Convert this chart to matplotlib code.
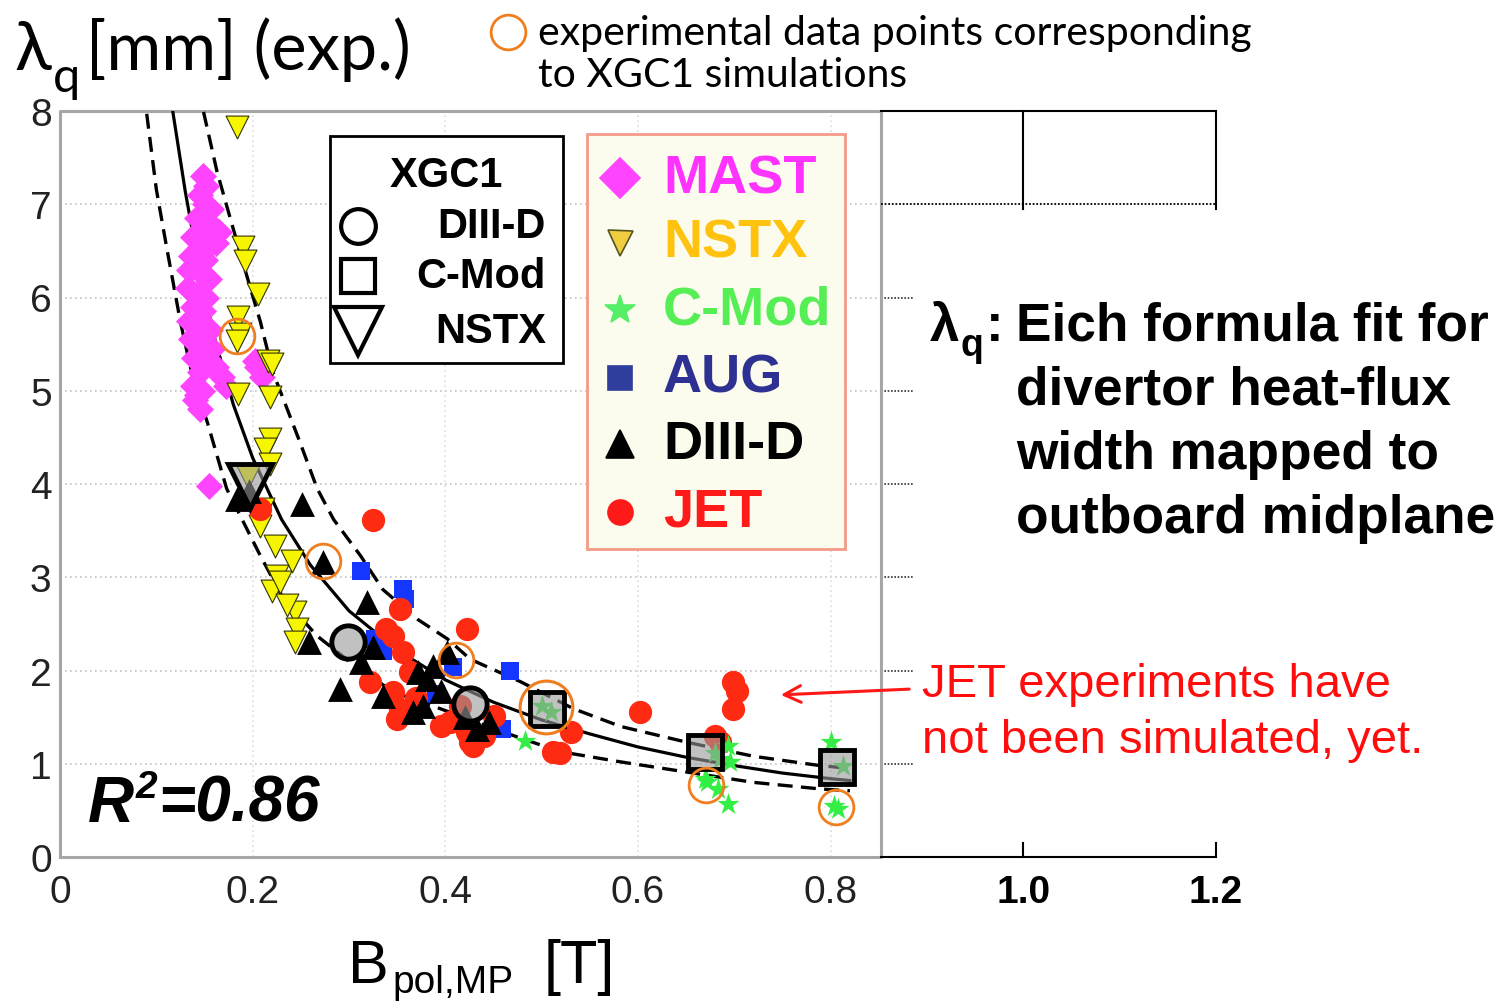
import matplotlib
matplotlib.use("Agg")
import matplotlib.pyplot as plt
from matplotlib import font_manager
from matplotlib.patches import Rectangle

W, H = 1503, 1004

# ---- experimental data: lambda_q [mm] vs B_pol,MP [T] ----
mast_x = [0.148, 0.152, 0.145, 0.150, 0.157, 0.142, 0.149, 0.160, 0.138, 0.146,
          0.155, 0.165, 0.162, 0.136, 0.150, 0.134, 0.147, 0.155, 0.133, 0.143,
          0.152, 0.138, 0.148, 0.134, 0.145, 0.156, 0.136, 0.147, 0.158, 0.139,
          0.150, 0.162, 0.168, 0.145, 0.138, 0.147, 0.172, 0.140, 0.145, 0.142,
          0.205, 0.210, 0.202, 0.155]
mast_y = [7.30, 7.20, 7.10, 7.00, 6.95, 6.85, 6.80, 6.75, 6.65, 6.60,
          6.55, 6.70, 6.58, 6.45, 6.40, 6.30, 6.25, 6.20, 6.10, 6.05,
          6.00, 5.90, 5.85, 5.75, 5.70, 5.65, 5.55, 5.50, 5.45, 5.35,
          5.30, 5.25, 5.15, 5.20, 5.05, 5.00, 5.05, 4.90, 4.80, 4.95,
          5.25, 5.15, 5.32, 3.98]

nstx_x = [0.184, 0.190, 0.192, 0.206, 0.185, 0.187, 0.184, 0.216, 0.220, 0.185,
          0.218, 0.218, 0.213, 0.218, 0.195, 0.211, 0.208, 0.223, 0.241, 0.225,
          0.220, 0.244, 0.246, 0.244, 0.236, 0.228]
nstx_y = [7.83, 6.54, 6.39, 6.04, 5.79, 5.61, 5.53, 5.32, 5.29, 4.97,
          4.93, 4.48, 4.38, 4.21, 4.08, 3.73, 3.55, 3.34, 3.17, 3.01,
          2.85, 2.63, 2.45, 2.31, 2.70, 2.95]

d3d_x = [0.184, 0.196, 0.251, 0.273, 0.258, 0.319, 0.291, 0.335, 0.312, 0.381,
         0.377, 0.387, 0.433, 0.402, 0.366, 0.395, 0.372, 0.420, 0.325, 0.445]
d3d_y = [3.84, 3.92, 3.79, 3.16, 2.31, 2.73, 1.80, 1.73, 2.09, 1.91,
         1.62, 2.05, 1.37, 2.20, 1.55, 1.78, 1.98, 1.50, 2.25, 1.45]

aug_x = [0.312, 0.356, 0.358, 0.327, 0.335, 0.467, 0.459, 0.408, 0.390]
aug_y = [3.07, 2.87, 2.77, 2.34, 2.21, 1.99, 1.37, 2.04, 1.75]

jet_x = [0.325, 0.353, 0.346, 0.422, 0.356, 0.363, 0.346, 0.322, 0.353, 0.350,
         0.415, 0.422, 0.429, 0.450, 0.512, 0.426, 0.519, 0.530, 0.602, 0.699,
         0.703, 0.699, 0.685, 0.208, 0.338, 0.370, 0.405, 0.440, 0.395, 0.680]
jet_y = [3.61, 2.66, 2.37, 2.44, 2.20, 1.98, 1.77, 1.88, 1.59, 1.48,
         1.62, 1.34, 1.19, 1.51, 1.13, 1.23, 1.12, 1.34, 1.55, 1.88,
         1.78, 1.59, 1.23, 3.73, 2.45, 1.70, 1.45, 1.30, 1.40, 1.30]

cmod_x = [0.483, 0.500, 0.510, 0.670, 0.685, 0.693, 0.683, 0.693, 0.696, 0.672,
          0.800, 0.803, 0.813, 0.808, 0.680]
cmod_y = [1.24, 1.62, 1.55, 0.84, 1.05, 0.57, 0.73, 1.19, 1.02, 0.80,
          1.23, 0.55, 0.98, 0.52, 1.12]

# ---- XGC1 simulations ----
xgc_d3d_x = [0.299, 0.426]
xgc_d3d_y = [2.31, 1.64]
xgc_cmod_x = [0.506, 0.670, 0.807]
xgc_cmod_y = [1.59, 1.13, 0.96]
xgc_nstx_x = [0.197]
xgc_nstx_y = [3.98]

# experimental points that have a matching XGC1 run
match_x = [0.184, 0.273, 0.411, 0.671, 0.806]
match_y = [5.59, 3.17, 2.11, 0.77, 0.54]
match_big_x = [0.505]
match_big_y = [1.61]

# ---- Eich fit and its bounds ----
fit_x = [0.117, 0.13, 0.145, 0.16, 0.18, 0.20, 0.23, 0.26, 0.30, 0.35,
         0.40, 0.45, 0.50, 0.55, 0.60, 0.65, 0.70, 0.75, 0.80, 0.82]
fit_y = [8.00, 7.14, 6.28, 5.58, 4.85, 4.28, 3.62, 3.13, 2.64, 2.22,
         1.90, 1.66, 1.47, 1.32, 1.18, 1.07, 0.98, 0.90, 0.84, 0.82]
upper_x = [0.149, 0.163, 0.180, 0.194, 0.208, 0.221, 0.236, 0.249, 0.267, 0.284,
           0.312, 0.335, 0.371, 0.402, 0.426, 0.478, 0.533, 0.582, 0.651, 0.720,
           0.789, 0.82]
upper_y = [7.99, 7.35, 6.73, 6.23, 5.74, 5.20, 4.80, 4.45, 3.95, 3.62,
           3.23, 2.87, 2.55, 2.34, 2.12, 1.88, 1.59, 1.40, 1.23, 1.08,
           0.98, 0.95]
lower_x = [0.090, 0.100, 0.111, 0.125, 0.138, 0.153, 0.173, 0.190, 0.208, 0.232,
           0.267, 0.300, 0.346, 0.387, 0.460, 0.519, 0.582, 0.651, 0.720, 0.789,
           0.82]
lower_y = [7.97, 7.16, 6.52, 5.74, 5.13, 4.66, 3.95, 3.60, 3.23, 2.77,
           2.37, 2.10, 1.77, 1.62, 1.34, 1.13, 1.02, 0.91, 0.80, 0.73,
           0.71]

xticks = [0, 0.2, 0.4, 0.6, 0.8, 1.0, 1.2]
xtick_labels = ["0", "0.2", "0.4", "0.6", "0.8", "1.0", "1.2"]
yticks = [0, 1, 2, 3, 4, 5, 6, 7, 8]

XMAX_DATA = 0.852  # right edge of the measured-data frame

names = {f.name for f in font_manager.fontManager.ttflist}
SANS = "Liberation Sans"
HUMAN = ["Lato", "DejaVu Sans"] if "Lato" in names else ["Open Sans", "DejaVu Sans"]

fig = plt.figure(figsize=(W / 100, H / 100), dpi=100)
ax = fig.add_axes([60 / W, 1 - 858 / H, 1156 / W, 746 / H])
ax.set_xlim(0, 1.2)
ax.set_ylim(0, 8)
for sp in ax.spines.values():
    sp.set_visible(False)

# grid (dotted) inside the data frame
grid_c = "#c4c4c4"
for yv in yticks[1:-1]:
    ax.plot([0, XMAX_DATA], [yv, yv], ls=(0, (1, 2)), color=grid_c, lw=1.2, zorder=0)
for xv in xticks[1:5]:
    ax.plot([xv, xv], [0, 8], ls=(0, (1, 2)), color="#dddddd", lw=1.2, zorder=0)
for yv in [1, 2, 3, 4, 5, 6]:
    ax.plot([XMAX_DATA, 0.885], [yv, yv], ls=(0, (1, 1)), color="#333333", lw=1.2,
            clip_on=False, zorder=0)

# gray frame of the data area
frame_c = "#a6a6a6"
ax.plot([0, 0, XMAX_DATA, XMAX_DATA, 0], [0, 8, 8, 0, 0], color=frame_c, lw=2.2,
        clip_on=False, zorder=1)
# extended black frame to 1.2
ax.plot([XMAX_DATA, 1.2], [8, 8], color="black", lw=1.5, clip_on=False)
ax.plot([XMAX_DATA, 1.2], [0, 0], color="black", lw=1.5, clip_on=False)
ax.plot([1.0, 1.0], [8, 6.95], color="black", lw=1.5, clip_on=False)
ax.plot([1.2, 1.2], [8, 6.95], color="black", lw=1.5, clip_on=False)
ax.plot([1.0, 1.0], [0, 0.15], color="black", lw=1.5, clip_on=False)
ax.plot([1.2, 1.2], [0, 0.15], color="black", lw=1.5, clip_on=False)
ax.plot([XMAX_DATA, 1.2], [7, 7], ls=(0, (1, 1)), color="black", lw=1.3, clip_on=False)

# ticks
ax.set_xticks(xticks)
ax.set_xticklabels(xtick_labels)
ax.set_yticks(yticks)
ax.tick_params(axis="both", direction="in", length=0, colors="#222222")
ax.tick_params(axis="x", pad=12, labelsize=28)
ax.tick_params(axis="y", pad=6, labelsize=28)
for lab in ax.get_xticklabels() + ax.get_yticklabels():
    lab.set_fontfamily(SANS)
for lab in ax.get_xticklabels()[-2:]:
    lab.set_fontweight("bold")
    lab.set_color("black")

# fit curves
ax.plot(fit_x, fit_y, color="black", lw=2.3, zorder=3)
ax.plot(upper_x, upper_y, color="black", lw=2.4, ls=(0, (4.5, 2.5)), zorder=3)
ax.plot(lower_x, lower_y, color="black", lw=2.4, ls=(0, (4.5, 2.5)), zorder=3)

# experimental data
ax.scatter(mast_x, mast_y, marker="D", s=190, color="#ff44ff", lw=0, zorder=4)
ax.scatter(nstx_x, nstx_y, marker="v", s=270, color="#f6f600", edgecolor="#333300",
           lw=0.8, zorder=5)
ax.scatter(aug_x, aug_y, marker="s", s=180, color="#1436ff", lw=0, zorder=5)
ax.scatter(jet_x, jet_y, marker="o", s=280, color="#ff2a12", lw=0, zorder=6)
ax.scatter(d3d_x, d3d_y, marker="^", s=320, color="black", lw=0, zorder=7)
ax.scatter(cmod_x, cmod_y, marker="*", s=280, color="#33ee44", lw=0, zorder=7)

# XGC1 results
gray = (0.6, 0.6, 0.6, 0.6)
ax.plot(xgc_d3d_x, xgc_d3d_y, ls="none", marker="o", ms=24, mfc=gray, mec="black",
        mew=3.5, zorder=8)
ax.plot(xgc_cmod_x, xgc_cmod_y, ls="none", marker="s", ms=24, mfc=gray, mec="black",
        mew=3.5, zorder=8)
ax.plot(xgc_nstx_x, xgc_nstx_y, ls="none", marker="v", ms=32, mfc=gray, mec="black",
        mew=3.5, zorder=8)
ax.plot(match_x, match_y, ls="none", marker="o", ms=25, mfc="none", mec="#f07d1e",
        mew=2.0, zorder=9)
ax.plot(match_big_x, match_big_y, ls="none", marker="o", ms=38, mfc="none",
        mec="#f07d1e", mew=2.2, zorder=9)

# ---- overlay in pixel coordinates for annotations and legends ----
ov = fig.add_axes([0, 0, 1, 1], zorder=10)
ov.set_xlim(0, W)
ov.set_ylim(H, 0)
ov.axis("off")

# y label (top left)
ov.text(14, 70, "λ", family=HUMAN, fontsize=49, va="baseline")
ov.text(53, 92, "q", family=HUMAN, fontsize=35, va="baseline")
ov.text(86, 70, "[mm] (exp.)", family=HUMAN, fontsize=48, va="baseline")

# orange-circle note
ov.plot([508], [33], marker="o", ms=25, mfc="none", mec="#f07d1e", mew=2.0)
ov.text(538, 45, "experimental data points corresponding", family=HUMAN,
        fontsize=29.5, va="baseline")
ov.text(538, 87, "to XGC1 simulations", family=HUMAN, fontsize=29.5, va="baseline")

# x label
ov.text(348, 983, "B", family=SANS, fontsize=44, va="baseline")
ov.text(392, 993, "pol,MP", family=SANS, fontsize=28, va="baseline")
ov.text(544, 983, "[T]", family=SANS, fontsize=44, va="baseline")

# R^2
ov.text(88, 822, "R", family=SANS, fontsize=46, weight="bold", style="italic",
        va="baseline")
ov.text(136, 798, "2", family=SANS, fontsize=28, weight="bold", style="italic",
        va="baseline")
ov.text(158, 822, "=0.86", family=SANS, fontsize=46, weight="bold", style="italic",
        va="baseline")

# right-hand description
ov.text(930, 341, "λ", family=SANS, fontsize=38, weight="bold", va="baseline")
ov.text(960, 356, "q", family=SANS, fontsize=27, weight="bold", va="baseline")
ov.text(986, 341, ":", family=SANS, fontsize=38, weight="bold", va="baseline")
desc = ["Eich formula fit for", "divertor heat-flux", "width mapped to",
        "outboard midplane"]
for i, line in enumerate(desc):
    ov.text(1016, 341 + 64 * i, line, family=SANS, fontsize=38.3, weight="bold",
            va="baseline")

# JET note with arrow
ov.text(922, 697, "JET experiments have", family=SANS, fontsize=34, color="#ff0d0d",
        va="baseline")
ov.text(922, 753, "not been simulated, yet.", family=SANS, fontsize=34,
        color="#ff0d0d", va="baseline")
ov.annotate("", xy=(778, 696), xytext=(912, 690),
            arrowprops=dict(arrowstyle="->", color="#ff1a1a", lw=2.2,
                            mutation_scale=30))

# XGC1 legend box
ov.add_patch(Rectangle((330, 137), 233, 227, fill=True, fc="white", ec="black",
                       lw=2.0, zorder=1))
ov.text(446, 176, "XGC1", family=SANS, fontsize=30, weight="bold", ha="center",
        va="center")
xgc_rows = [("o", 25, "DIII-D", 227), ("s", 25, "C-Mod", 277), ("v", 34, "NSTX", 332)]
for mk, ms, lab, yy in xgc_rows:
    ov.plot([358], [yy], marker=mk, ms=ms, mfc="none", mec="black", mew=3)
    ov.text(546, yy, lab, family=SANS, fontsize=30, weight="bold", ha="right",
            va="center")

# experiment legend box
ov.add_patch(Rectangle((587, 135), 258, 415, fc="#fcfcee", ec="#f49a88", lw=2.0,
                       zorder=1))
exp_rows = [("D", 20, "#ff44ff", "none", "MAST", "#ff33ff", 179),
            ("v", 18, "#f0cc40", "#555520", "NSTX", "#ffc20e", 244),
            ("*", 22, "#55ee66", "none", "C-Mod", "#55ee55", 311),
            ("s", 17, "#2f3d9c", "none", "AUG", "#2e3192", 379),
            ("^", 20, "black", "none", "DIII-D", "black", 445),
            ("o", 18, "#ff1a1a", "none", "JET", "#ff1a1a", 513)]
for mk, ms, fc, ec, lab, tc, yy in exp_rows:
    ov.plot([620], [yy], marker=mk, ms=ms, mfc=fc,
            mec=ec if ec != "none" else fc, mew=1.2)
    ov.text(663, yy, lab, family=SANS, fontsize=39, weight="bold", color=tc,
            va="center")

fig.savefig("out.png", dpi=100)
